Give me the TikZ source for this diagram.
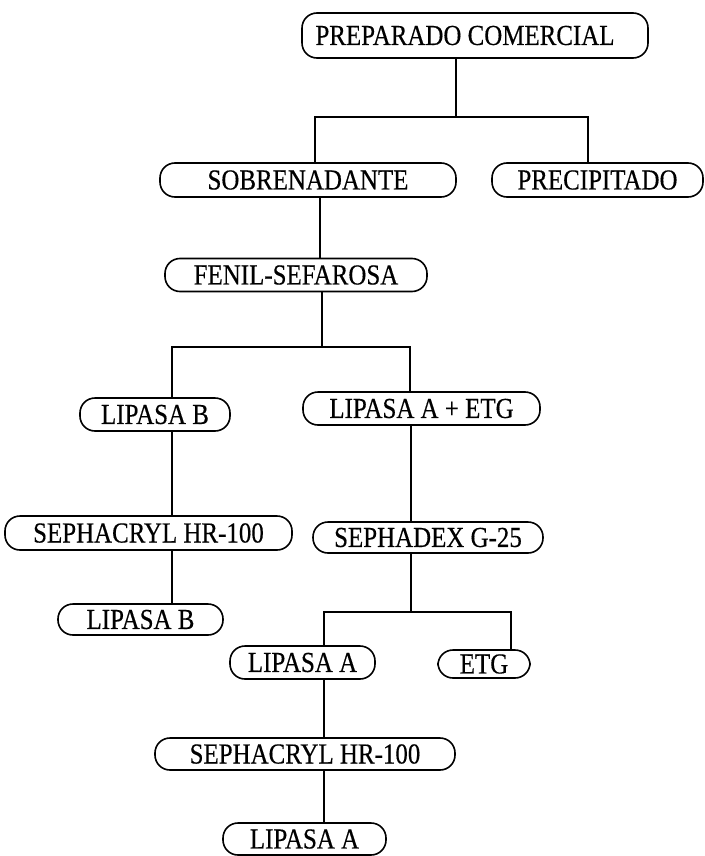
\documentclass[tikz,border=0pt]{standalone}
\usepackage{fontspec}
\setmainfont{Liberation Serif}[FakeStretch=0.86,FakeBold=0.4]
\begin{document}
\begin{tikzpicture}[x=1pt,y=-1pt,
  box/.style={draw, line width=1.6pt, rounded corners=15pt, inner sep=0pt,
    font=\fontsize{29}{29}\selectfont, align=center},
  conn/.style={line width=1.6pt}]
\useasboundingbox (0,0) rectangle (704,856);
\node[box, minimum width=346pt, minimum height=45pt] (prep) at (475,35.5) {PREPARADO COMERCIAL\hspace*{20pt}};
\node[box, minimum width=296pt, minimum height=34pt] (sobre) at (308,180) {SOBRENADANTE};
\node[box, minimum width=211pt, minimum height=34pt] (precip) at (597.5,180) {PRECIPITADO};
\node[box, minimum width=262pt, minimum height=33pt] (fenil) at (296,275) {FENIL-SEFAROSA};
\node[box, minimum width=150pt, minimum height=33pt] (lipb1) at (155,414.5) {LIPASA B};
\node[box, minimum width=237pt, minimum height=33pt] (lipaetg) at (421.5,408.5) {LIPASA A + ETG};
\node[box, minimum width=287pt, minimum height=34pt] (sephl) at (148.5,533) {SEPHACRYL HR-100};
\node[box, minimum width=230pt, minimum height=31pt] (sephadex) at (428,537.5) {SEPHADEX G-25};
\node[box, minimum width=165pt, minimum height=31pt] (lipb2) at (140.5,619.5) {LIPASA B};
\node[box, minimum width=145pt, minimum height=33pt] (lipa1) at (302.5,662.5) {LIPASA A};
\node[box, minimum width=92pt, minimum height=28pt] (etg) at (484,664) {ETG};
\node[box, minimum width=300pt, minimum height=32pt] (sephr) at (305,754) {SEPHACRYL HR-100};
\node[box, minimum width=163pt, minimum height=32pt] (lipa2) at (304.5,839) {LIPASA A};
% junctions
\coordinate (j1) at (456,117);
\coordinate (j1l) at (315,117);
\coordinate (j1r) at (588,117);
\coordinate (j2) at (322,347);
\coordinate (j2l) at (172,347);
\coordinate (j2r) at (410,347);
\coordinate (j3) at (411,612);
\coordinate (j3l) at (324,612);
\coordinate (j3r) at (511,612);
\coordinate (c1) at (320,0);
\coordinate (c2) at (172,0);
\coordinate (c3) at (324,0);
% connectors
\draw[conn] (prep.south -| j1) -- (j1);
\draw[conn] (sobre.north -| j1l) -- (j1l) -- (j1r) -- (precip.north -| j1r);
\draw[conn] (sobre.south -| c1) -- (fenil.north -| c1);
\draw[conn] (fenil.south -| j2) -- (j2);
\draw[conn] (lipb1.north -| j2l) -- (j2l) -- (j2r) -- (lipaetg.north -| j2r);
\draw[conn] (lipb1.south -| c2) -- (sephl.north -| c2);
\draw[conn] (sephl.south -| c2) -- (lipb2.north -| c2);
\draw[conn] (lipaetg.south -| j3) -- (sephadex.north -| j3);
\draw[conn] (sephadex.south -| j3) -- (j3);
\draw[conn] (lipa1.north -| j3l) -- (j3l) -- (j3r) -- (etg.north -| j3r);
\draw[conn] (lipa1.south -| c3) -- (sephr.north -| c3);
\draw[conn] (sephr.south -| c3) -- (lipa2.north -| c3);
\end{tikzpicture}
\end{document}
